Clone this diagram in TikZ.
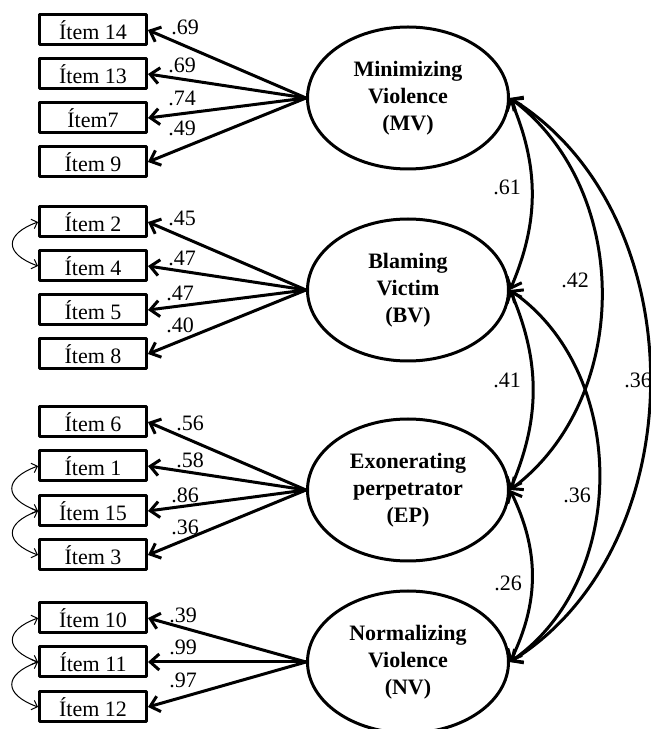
\documentclass[tikz,border=0pt]{standalone}
\usepackage{fontspec}
\setmainfont{Liberation Serif}
\usetikzlibrary{arrows.meta,shapes.geometric}

\begin{document}
\begin{tikzpicture}[line cap=round,line join=round,x=0.5pt,y=0.5pt,
	>={Straight Barb[length=4.5pt,width=8pt]},
	item/.style={draw,line width=1.5pt,minimum width=53.5pt,minimum height=15pt,inner sep=0pt,font=\fontsize{11}{13}\selectfont},
	factor/.style={draw,ellipse,line width=1.5pt,minimum width=100.5pt,minimum height=71pt,inner sep=0pt,align=center,font=\bfseries\fontsize{11}{13.5}\selectfont},
	load/.style={->,line width=1.5pt},
	corr/.style={<->,line width=1.5pt},
	err/.style={<->,line width=0.5pt,>={Straight Barb[length=2.5pt,width=5pt]}},
	num/.style={inner sep=0pt,font=\fontsize{11}{13}\selectfont}]
		\useasboundingbox (0,0) rectangle (650,729);
		% facteurs
		\node[factor] (mv) at (408,631) {Minimizing\\Violence\\(MV)};
		\node[factor] (bv) at (408,439) {Blaming\\Victim\\(BV)};
		\node[factor] (ep) at (408,239) {Exonerating\\perpetrator\\(EP)};
		\node[factor] (nv) at (408,67) {Normalizing\\Violence\\(NV)};
		% items MV
		\node[item] (i14) at (93,699) {Ítem 14};
		\node[item] (i13) at (93,655) {Ítem 13};
		\node[item] (i7) at (93,611) {Ítem7};
		\node[item] (i9) at (93,567) {Ítem 9};
		% items BV
		\node[item] (i2) at (93,507) {Ítem 2};
		\node[item] (i4) at (93,463) {Ítem 4};
		\node[item] (i5) at (93,419) {Ítem 5};
		\node[item] (i8) at (93,375) {Ítem 8};
		% items EP
		\node[item] (i6) at (93,307) {Ítem 6};
		\node[item] (i1) at (93,263) {Ítem 1};
		\node[item] (i15) at (93,218) {Ítem 15};
		\node[item] (i3) at (93,174) {Ítem 3};
		% items NV
		\node[item] (i10) at (93,111) {Ítem 10};
		\node[item] (i11) at (93,67) {Ítem 11};
		\node[item] (i12) at (93,22) {Ítem 12};
		% saturations
		\draw[load] (mv.west) -- (i14.east);
		\draw[load] (mv.west) -- (i13.east);
		\draw[load] (mv.west) -- (i7.east);
		\draw[load] (mv.west) -- (i9.east);
		\draw[load] (bv.west) -- (i2.east);
		\draw[load] (bv.west) -- (i4.east);
		\draw[load] (bv.west) -- (i5.east);
		\draw[load] (bv.west) -- (i8.east);
		\draw[load] (ep.west) -- (i6.east);
		\draw[load] (ep.west) -- (i1.east);
		\draw[load] (ep.west) -- (i15.east);
		\draw[load] (ep.west) -- (i3.east);
		\draw[load] (nv.west) -- (i10.east);
		\draw[load] (nv.west) -- (i11.east);
		\draw[load] (nv.west) -- (i12.east);
		\node[num] (l14) at (185,702) {.69};
		\node[num] (l13) at (182,664) {.69};
		\node[num] (l7) at (182,631) {.74};
		\node[num] (l9) at (182,601) {.49};
		\node[num] (l2) at (182,511) {.45};
		\node[num] (l4) at (182,471) {.47};
		\node[num] (l5) at (180,436) {.47};
		\node[num] (l8) at (180,404) {.40};
		\node[num] (l6) at (190,306) {.56};
		\node[num] (l1) at (190,269) {.58};
		\node[num] (l15) at (185,234) {.86};
		\node[num] (l3) at (185,202) {.36};
		\node[num] (l10) at (183,114) {.39};
		\node[num] (l11) at (183,82) {.99};
		\node[num] (l12) at (183,49) {.97};
		% erreurs correlees
		\draw[err] (i2.west) to[out=200,in=160,looseness=2.1] (i4.west);
		\draw[err] (i1.west) to[out=200,in=160,looseness=2.1] (i15.west);
		\draw[err] (i15.west) to[out=200,in=160,looseness=2.1] (i3.west);
		\draw[err] (i10.west) to[out=200,in=160,looseness=2.1] (i11.west);
		\draw[err] (i11.west) to[out=200,in=160,looseness=2.1] (i12.west);
		% correlations entre facteurs
		\draw[corr] (mv.east) to[out=-67,in=67] (bv.east);
		\draw[corr] (bv.east) to[out=-67,in=67] (ep.east);
		\draw[corr] (ep.east) to[out=-64,in=64] (nv.east);
		\draw[corr] (mv.east) to[out=-37,in=37] (ep.east);
		\draw[corr] (bv.east) to[out=-35,in=35] (nv.east);
		\draw[corr] (mv.east) to[out=-32,in=32] (nv.east);
		\node[num] (r61) at (507,542) {.61};
		\node[num] (r42) at (575,449) {.42};
		\node[num] (r41) at (507,349) {.41};
		\node[num] (r36a) at (638,349) {.36};
		\node[num] (r36b) at (577,234) {.36};
		\node[num] (r26) at (508,146) {.26};
\end{tikzpicture}
\end{document}
